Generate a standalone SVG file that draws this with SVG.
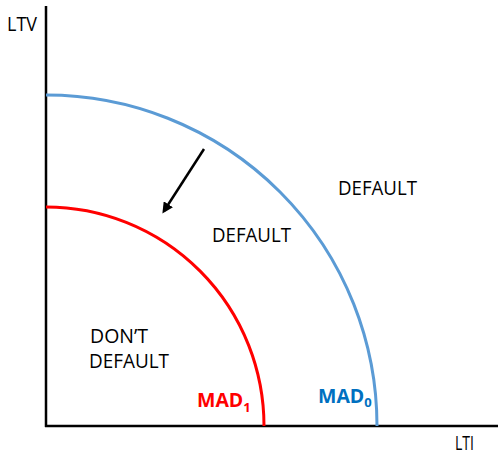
<svg xmlns="http://www.w3.org/2000/svg" width="498" height="456" viewBox="0 0 498 456">
  <style>
    .lbl { font-family: "Open Sans", "Liberation Sans", sans-serif; font-size: 19.5px; fill: #000; }
    .mad { font-family: "Open Sans", "Liberation Sans", sans-serif; font-size: 19.5px; font-weight: bold; }
    .axis { stroke: #000; stroke-width: 2.5; fill: none; }
  </style>
  <defs>
    <marker id="head" markerWidth="11" markerHeight="11" refX="8" refY="5.5" orient="auto" markerUnits="userSpaceOnUse">
      <path d="M0,0 L11,5.5 L0,11 Z" fill="#000"/>
    </marker>
  </defs>
  <rect width="498" height="456" fill="#fff"/>

  <g id="axes">
    <line class="axis" x1="46" y1="6" x2="46" y2="427"/>
    <line class="axis" x1="45" y1="426" x2="498" y2="426"/>
    <text class="lbl" x="7" y="31" textLength="30" lengthAdjust="spacingAndGlyphs">LTV</text>
    <text class="lbl" x="455" y="450" font-size="18" textLength="19" lengthAdjust="spacingAndGlyphs">LTI</text>
  </g>

  <g id="mad0">
    <path d="M46,95 A331,331 0 0 1 377,426" fill="none" stroke="#5B9BD5" stroke-width="3"/>
    <text class="mad" x="318" y="403" fill="#0070C0">MAD<tspan font-size="13" dy="4">0</tspan></text>
  </g>

  <g id="mad1">
    <path d="M46,207 A218,219 0 0 1 264,426" fill="none" stroke="#FF0000" stroke-width="3"/>
    <text class="mad" x="197" y="407" fill="#FF0000">MAD<tspan font-size="13" dy="5">1</tspan></text>
  </g>

  <g id="regions">
    <text class="lbl" x="338" y="195" textLength="79" lengthAdjust="spacingAndGlyphs">DEFAULT</text>
    <text class="lbl" x="212" y="242" textLength="79" lengthAdjust="spacingAndGlyphs">DEFAULT</text>
    <text class="lbl" x="90" y="343" textLength="58" lengthAdjust="spacingAndGlyphs">DON’T</text>
    <text class="lbl" x="89" y="368" textLength="80" lengthAdjust="spacingAndGlyphs">DEFAULT</text>
  </g>

  <g id="connectors">
    <line x1="204" y1="149" x2="164" y2="211" stroke="#000" stroke-width="2.5" marker-end="url(#head)"/>
  </g>
</svg>
